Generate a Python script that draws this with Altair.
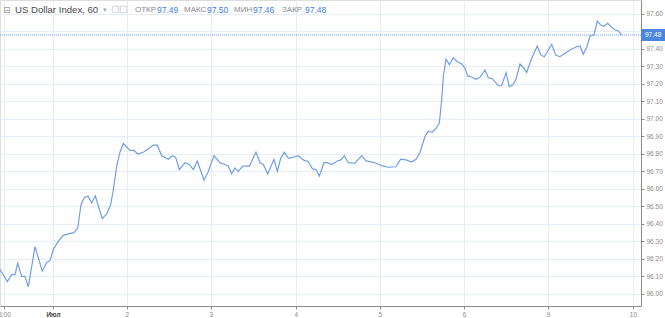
import altair as alt
import pandas as pd

# hourly bar index (0 = "3:00" tick) and USD index close values
hours = [-1.14, 0.94, 2.2, 3.14, 3.91, 5.06, 6.0, 6.94, 8.86, 10.94, 12.2, 13.14, 14.09, 15.51,
         16.94, 18.37, 20.0, 21.06, 22.0, 22.94, 24.0, 25.06, 26.09, 27.14, 28.09, 29.34, 30.49,
         31.23, 32.2, 33.14, 34.09, 36.0, 37.14, 38.2, 39.8, 41.23, 42.66, 43.8, 45.06, 46.94,
         48.09, 49.06, 50.09, 51.71, 52.94, 54.09, 55.23, 57.14, 58.37, 60.0, 61.71, 63.14,
         64.09, 65.06, 66.0, 66.94, 68.2, 70.09, 72.0, 73.14, 74.09, 75.34, 77.14, 78.09, 79.06,
         80.09, 81.23, 82.49, 84.09, 85.51, 86.94, 88.09, 89.14, 90.09, 91.43, 92.49, 93.63,
         95.23, 96.29, 97.23, 98.37, 100.29, 102.2, 103.43, 106.0, 107.91, 109.8, 112.0, 113.34,
         114.86, 116.49, 117.71, 118.86, 120.29, 121.23, 122.37, 123.43, 124.37, 125.06, 125.51,
         126.29, 127.23, 128.37, 129.51, 130.77, 131.71, 132.49, 133.63, 134.77, 136.0, 137.43,
         138.37, 139.51, 141.23, 142.2, 143.43, 144.37, 145.34, 146.29, 147.43, 148.37, 149.34,
         150.49, 151.43, 152.37, 153.34, 154.37, 155.51, 156.49, 157.63, 158.86, 160.29, 162.2,
         163.63, 164.57, 165.51, 166.49, 167.43, 168.57, 169.51, 170.49, 171.43, 172.49, 173.63,
         174.57, 175.51, 176.49]
prices = [96.14, 96.07, 96.11, 96.11, 96.175, 96.10, 96.10, 96.04, 96.27, 96.13, 96.18, 96.19,
          96.255, 96.30, 96.335, 96.343, 96.35, 96.375, 96.51, 96.55, 96.56, 96.52, 96.56, 96.49,
          96.43, 96.457, 96.51, 96.594, 96.73, 96.81, 96.86, 96.82, 96.82, 96.80, 96.81, 96.83,
          96.85, 96.85, 96.79, 96.77, 96.79, 96.78, 96.71, 96.75, 96.74, 96.71, 96.76, 96.65,
          96.70, 96.79, 96.75, 96.74, 96.73, 96.686, 96.72, 96.70, 96.73, 96.73, 96.81, 96.75,
          96.74, 96.686, 96.77, 96.70, 96.775, 96.81, 96.775, 96.78, 96.79, 96.766, 96.756,
          96.716, 96.71, 96.674, 96.75, 96.75, 96.74, 96.76, 96.766, 96.79, 96.75, 96.747, 96.79,
          96.76, 96.75, 96.733, 96.724, 96.727, 96.77, 96.766, 96.754, 96.77, 96.81, 96.90,
          96.93, 96.924, 96.947, 96.975, 97.11, 97.24, 97.343, 97.31, 97.35, 97.327, 97.314,
          97.29, 97.246, 97.24, 97.227, 97.238, 97.28, 97.236, 97.23, 97.19, 97.19, 97.265,
          97.185, 97.194, 97.227, 97.314, 97.295, 97.266, 97.333, 97.375, 97.417, 97.366, 97.356,
          97.394, 97.427, 97.366, 97.356, 97.375, 97.40, 97.413, 97.417, 97.37, 97.41, 97.474,
          97.48, 97.56, 97.537, 97.53, 97.547, 97.524, 97.51, 97.503, 97.48]

tick_pos = [0, 14, 35.1, 59.1, 83.4, 107.4, 131.4, 155.4, 179.7]
tick_labels = ["3:00", "Июл", "2", "3", "4", "5", "6", "9", "10"]
y_ticks = [96.0, 96.1, 96.2, 96.3, 96.4, 96.5, 96.6, 96.7, 96.8, 96.9,
           97.0, 97.1, 97.2, 97.3, 97.4, 97.5, 97.6]
last_price = 97.48

title_text = "US Dollar Index, 60"
stat_names = ["ОТКР", "МАКС", "МИН", "ЗАКР"]
stat_values = ["97.49", "97.50", "97.46", "97.48"]

LINE = "#6f9fe8"
BLUE_TXT = "#3f7fdc"
GRID = "#e6edf5"
FONT = "Liberation Sans"

df = pd.DataFrame({"t": hours, "p": prices})

label_expr = " : ".join(
    f"datum.value == {p} ? '{l}'" for p, l in zip(tick_pos, tick_labels)
) + " : ''"

x_scale = alt.Scale(domain=[-1.143, 182.0], nice=False, zero=False)
y_scale = alt.Scale(domain=[95.931, 97.68], nice=False, zero=False)

x_axis = alt.Axis(values=tick_pos, labelExpr=label_expr, title=None, grid=True,
                  gridColor=GRID, domainColor="#8c8c8c", tickColor="#8c8c8c", tickSize=3,
                  labelFontSize=6.5, labelFont=FONT, labelPadding=2,
                  labelColor={"condition": {"test": "datum.value == 14", "value": "#444"},
                              "value": "#8a8a8a"},
                  labelFontWeight={"condition": {"test": "datum.value == 14", "value": "bold"},
                                   "value": "normal"},
                  labelFlush=False, labelOverlap=False)
y_axis = alt.Axis(orient="right", values=y_ticks, format=".2f", title=None, grid=True,
                  gridColor=GRID, domainColor="#8c8c8c", tickColor="#8c8c8c", tickSize=3,
                  labelFontSize=6.5, labelFont=FONT, labelColor="#8a8a8a", labelPadding=2,
                  labelOverlap=False, labelFlush=False, labelBound=False)

line = alt.Chart(df).mark_line(color=LINE, strokeWidth=1.2, clip=True).encode(
    x=alt.X("t:Q", scale=x_scale, axis=x_axis),
    y=alt.Y("p:Q", scale=y_scale, axis=y_axis),
)

lp = pd.DataFrame({"v": [last_price], "s": [f"{last_price:.2f}"]})
rule = alt.Chart(lp).mark_rule(color=LINE, strokeDash=[1, 1], strokeWidth=1).encode(
    y=alt.Y("v:Q", scale=y_scale, axis=y_axis)
)
box = alt.Chart(lp).mark_rect(color="#4a86e0", yOffset=-6, y2Offset=6).encode(
    x=alt.value(641), x2=alt.value(665),
    y=alt.Y("v:Q", scale=y_scale, axis=y_axis), y2="v:Q",
)
box_txt = alt.Chart(lp).mark_text(color="white", fontSize=6.5, font=FONT, align="left",
                                  baseline="middle").encode(
    x=alt.value(645), y=alt.Y("v:Q", scale=y_scale, axis=y_axis), text="s:N"
)

hdr = []
hdr.append(alt.Chart(lp).mark_text(text="⊟", fontSize=9, color="#9a9a9a", align="left",
                                   baseline="middle", font="DejaVu Sans").encode(
    x=alt.value(3), y=alt.value(9.5)))
hdr.append(alt.Chart(lp).mark_text(text=title_text, fontSize=9.6, color="#4a4a4a", align="left",
                                   baseline="middle", font=FONT).encode(
    x=alt.value(15), y=alt.value(9.5)))
hdr.append(alt.Chart(lp).mark_text(text="▾", fontSize=7, color="#aaaaaa", align="left",
                                   baseline="middle", font="DejaVu Sans").encode(
    x=alt.value(103), y=alt.value(9.5)))
for xi in [112, 120]:
    hdr.append(alt.Chart(lp).mark_point(shape="square", size=40, filled=False,
                                        color="#c4c4c4", strokeWidth=1).encode(
        x=alt.value(xi + 3.5), y=alt.value(9.5)))
name_x = [135, 184, 234, 282]
val_x = [157, 207, 253, 305]
for n, v, nx, vx in zip(stat_names, stat_values, name_x, val_x):
    hdr.append(alt.Chart(lp).mark_text(text=n, fontSize=8, color="#8a8a8a", align="left",
                                       baseline="middle", font=FONT).encode(
        x=alt.value(nx), y=alt.value(9.5)))
    hdr.append(alt.Chart(lp).mark_text(text=v, fontSize=8.5, color=BLUE_TXT, align="left",
                                       baseline="middle", font=FONT).encode(
        x=alt.value(vx), y=alt.value(9.5)))

chart = alt.layer(line, rule, box, box_txt, *hdr).properties(
    width=641, height=306,
    padding={"left": 0, "top": 0, "right": 24, "bottom": 12},
    autosize=alt.AutoSizeParams(type="none"),
).configure_view(stroke=None).configure(background="white")

chart.save("out.html", embed_options={"renderer": "svg", "actions": False})
